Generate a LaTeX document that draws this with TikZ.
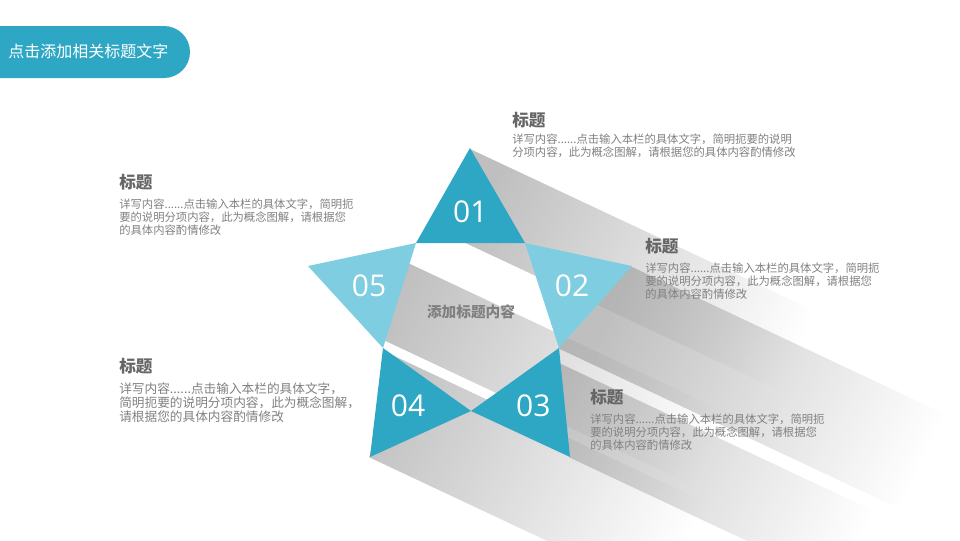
\documentclass[tikz,border=0pt]{standalone}
\usepackage{fontspec}
\setmainfont{Noto Sans CJK SC}
\newfontfamily\numfont{Open Sans}
\usetikzlibrary{positioning,calc,fadings}

\definecolor{tealdark}{HTML}{2EA7C4}
\definecolor{teallight}{HTML}{7ECDE0}
\definecolor{headgray}{HTML}{666666}
\definecolor{bodygray}{HTML}{808080}
\definecolor{shadowgray}{HTML}{A4A4A4}
\tikzfading[name=shadowfade, left color=transparent!0, right color=transparent!100]

\begin{document}
\begin{tikzpicture}[
        x=0.75pt, y=-0.75pt,
        every node/.style={inner sep=0pt, align=left},
        darktri/.style={fill=tealdark},
        lighttri/.style={fill=teallight},
        longshadow/.style={fill=shadowgray, opacity=0.7, path fading=shadowfade, fit fading=false,
          fading transform={shift={(#1)}, rotate=-25.2, scale=5.2}},
        digit/.style={text=white, font=\numfont\fontsize{22.5}{24}\selectfont},
        heading/.style={text=headgray, font=\bfseries\fontsize{12.5}{14}\selectfont, anchor=west},
        blurb/.style={text=bodygray, font=\fontsize{8.5}{9.8}\selectfont, anchor=north west}
    ]
  \useasboundingbox (0,0) rectangle (960,540);

  % Star corners
  \coordinate (tip01) at (470,148);
  \coordinate (tip02) at (632,266);
  \coordinate (tip03) at (570,457);
  \coordinate (tip04) at (370,457);
  \coordinate (tip05) at (308,266);
  \coordinate (in1) at (416,243);
  \coordinate (in2) at (525,243);
  \coordinate (in3) at (559,348);
  \coordinate (in4) at (471,411);
  \coordinate (in5) at (383,348);

  % Shadow starts
  \coordinate (s1a) at (470,148);
  \coordinate (s1b) at (467,243);
  \coordinate (s2a) at (632,266);
  \coordinate (s2b) at (559,348);
  \coordinate (s3a) at (561,363);
  \coordinate (s3b) at (570,457);
  \coordinate (s4a) at (392,354);
  \coordinate (s4b) at (370,457);
  \coordinate (s5a) at (410,263);
  \coordinate (s5b) at (385,340);

  % Long shadows
  \fill[longshadow={$(s4a)+(157,74)$}] (s4a) -- (s4b) -- ($(s4b)+(400,188)$) -- ($(s4a)+(400,188)$) -- cycle;
  \fill[longshadow={$(s3a)+(157,74)$}] (s3a) -- (s3b) -- ($(s3b)+(400,188)$) -- ($(s3a)+(400,188)$) -- cycle;
  \fill[longshadow={$(s5a)+(157,74)$}] (s5a) -- (s5b) -- ($(s5b)+(400,188)$) -- ($(s5a)+(400,188)$) -- cycle;
  \fill[longshadow={$(s2a)+(157,74)$}] (s2a) -- (s2b) -- ($(s2b)+(400,188)$) -- ($(s2a)+(400,188)$) -- cycle;
  \fill[longshadow={$(s1a)+(190,89)$}] (s1a) -- (s1b) -- ($(s1b)+(460,216)$) -- ($(s1a)+(460,216)$) -- cycle;

  % Triangles
  \fill[darktri] (tip01) -- (in1) -- (in2) -- cycle;
  \fill[lighttri] (tip02) -- (in2) -- (in3) -- cycle;
  \fill[darktri] (tip03) -- (in3) -- (in4) -- cycle;
  \fill[darktri] (tip04) -- (in4) -- (in5) -- cycle;
  \fill[lighttri] (tip05) -- (in5) -- (in1) -- cycle;

  % Nodes
  \node[digit] (n01) at (barycentric cs:tip01=1,in1=1,in2=1) {01};
  \node[digit] (n02) at (barycentric cs:tip02=1,in2=1,in3=1) {02};
  \node[digit] (n03) at (barycentric cs:tip03=1,in3=1,in4=1) {03};
  \node[digit] (n04) at (barycentric cs:tip04=1,in4=1,in5=1) {04};
  \node[digit] (n05) at (barycentric cs:tip05=1,in5=1,in1=1) {05};
  \node (core) [text=bodygray, font=\bfseries\fontsize{11}{13}\selectfont] at (471,312) {添加标题内容};

  % Banner
  \fill[tealdark, rounded corners=19.5pt] (-40,26) rectangle (190,78);
  \node (banner) [anchor=west, text=white, font=\fontsize{12}{14}\selectfont] at (8,51) {点击添加相关标题文字};

  % Texts
  \node[heading] (h01) at (512,120) {标题};
  \node (b01) [below=4pt of h01.south west, blurb] {详写内容......点击输入本栏的具体文字，简明扼要的说明\\分项内容，此为概念图解，请根据您的具体内容酌情修改};
  \node[heading] (h02) at (645,246) {标题};
  \node (b02) [below=6pt of h02.south west, blurb] {详写内容......点击输入本栏的具体文字，简明扼\\要的说明分项内容，此为概念图解，请根据您\\的具体内容酌情修改};
  \node[heading] (h03) at (590,397) {标题};
  \node (b03) [below=6pt of h03.south west, blurb] {详写内容......点击输入本栏的具体文字，简明扼\\要的说明分项内容，此为概念图解，请根据您\\的具体内容酌情修改};
  \node[heading] (h04) at (119,366) {标题};
  \node (b04) [below=6pt of h04.south west, blurb, font=\fontsize{9.5}{10.5}\selectfont] {详写内容......点击输入本栏的具体文字，\\简明扼要的说明分项内容，此为概念图解，\\请根据您的具体内容酌情修改};
  \node[heading] (h05) at (119,182) {标题};
  \node (b05) [below=6pt of h05.south west, blurb] {详写内容......点击输入本栏的具体文字，简明扼\\要的说明分项内容，此为概念图解，请根据您\\的具体内容酌情修改};
\end{tikzpicture}
\end{document}
